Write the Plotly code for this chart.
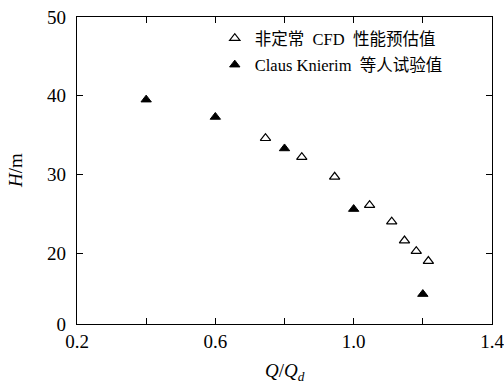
import plotly.graph_objects as go

# CFD (open triangles)
cfd_x = [0.745, 0.85, 0.945, 1.046, 1.11, 1.147, 1.181, 1.216]
cfd_y = [34.6, 32.2, 29.7, 26.1, 24.0, 21.6, 20.25, 19.0]
# Experiment (filled triangles)
exp_x = [0.4, 0.6, 0.8, 1.0, 1.2]
exp_y = [39.5, 37.3, 33.3, 25.6, 14.8]

x_tickvals = [0.2, 0.6, 1.0, 1.4]
x_ticktext = ["0.2", "0.6", "1.0", "1.4"]
x_minorvals = [0.4, 0.8, 1.2]
y_tickvals = [11.0, 20, 30, 40, 50]
y_ticktext = ["0", "20", "30", "40", "50"]

SERIF = "Liberation Serif, Times New Roman, serif"
MIX = "Liberation Serif, Noto Sans CJK SC, serif"

fig = go.Figure()
fig.add_trace(go.Scatter(
    x=cfd_x, y=cfd_y, mode="markers", name="非定常  CFD  性能预估值",
    legendgroup="a",
    marker=dict(symbol="triangle-up", size=9, color="white",
                line=dict(color="black", width=1.2))))
fig.add_trace(go.Scatter(
    x=exp_x, y=exp_y, mode="markers", name="Claus Knierim  等人试验值",
    legendgroup="b",
    marker=dict(symbol="triangle-up", size=9, color="black",
                line=dict(color="black", width=1))))

axis_common = dict(showline=True, linecolor="black", linewidth=1.2,
                   mirror="ticks", ticks="inside", ticklen=6, tickwidth=1.2,
                   tickcolor="black", showgrid=False, zeroline=False,
                   automargin=False, ticklabeloverflow="allow",
                   tickfont=dict(family=SERIF, size=19, color="black"))

fig.update_layout(
    width=504, height=385,
    margin=dict(l=77, r=12, t=17, b=61),
    paper_bgcolor="white", plot_bgcolor="white",
    xaxis=dict(range=[0.2, 1.4], tickmode="array", tickvals=x_tickvals,
               ticktext=x_ticktext,
               minor=dict(tickmode="array", tickvals=x_minorvals,
                          ticks="inside", ticklen=6, tickwidth=1.2,
                          tickcolor="black", showgrid=False),
               **axis_common),
    yaxis=dict(range=[11.0, 50], tickmode="array", tickvals=y_tickvals,
               ticktext=y_ticktext, ticklabelstandoff=6, **axis_common),
    legend=dict(x=0.332, y=0.987, xanchor="left", yanchor="top",
                font=dict(family=MIX, size=16.5, color="black"),
                bgcolor="rgba(0,0,0,0)", borderwidth=0,
                traceorder="grouped", tracegroupgap=2, itemwidth=30),
    showlegend=True,
    annotations=[
        dict(text="<i>H</i>/m", xref="paper", yref="paper",
             x=-0.148, y=0.5, xanchor="center", yanchor="middle",
             textangle=-90, showarrow=False,
             font=dict(family=SERIF, size=19, color="black")),
        dict(text="<i>Q</i>/<i>Q</i><sub><i>d</i></sub>", xref="paper", yref="paper",
             x=0.5, y=-0.155, xanchor="center", yanchor="middle",
             showarrow=False,
             font=dict(family=SERIF, size=19, color="black")),
    ],
)

fig.write_html("out.html", config={"displayModeBar": False},
               post_script="document.body.style.margin='0';document.body.style.overflow='hidden';")
